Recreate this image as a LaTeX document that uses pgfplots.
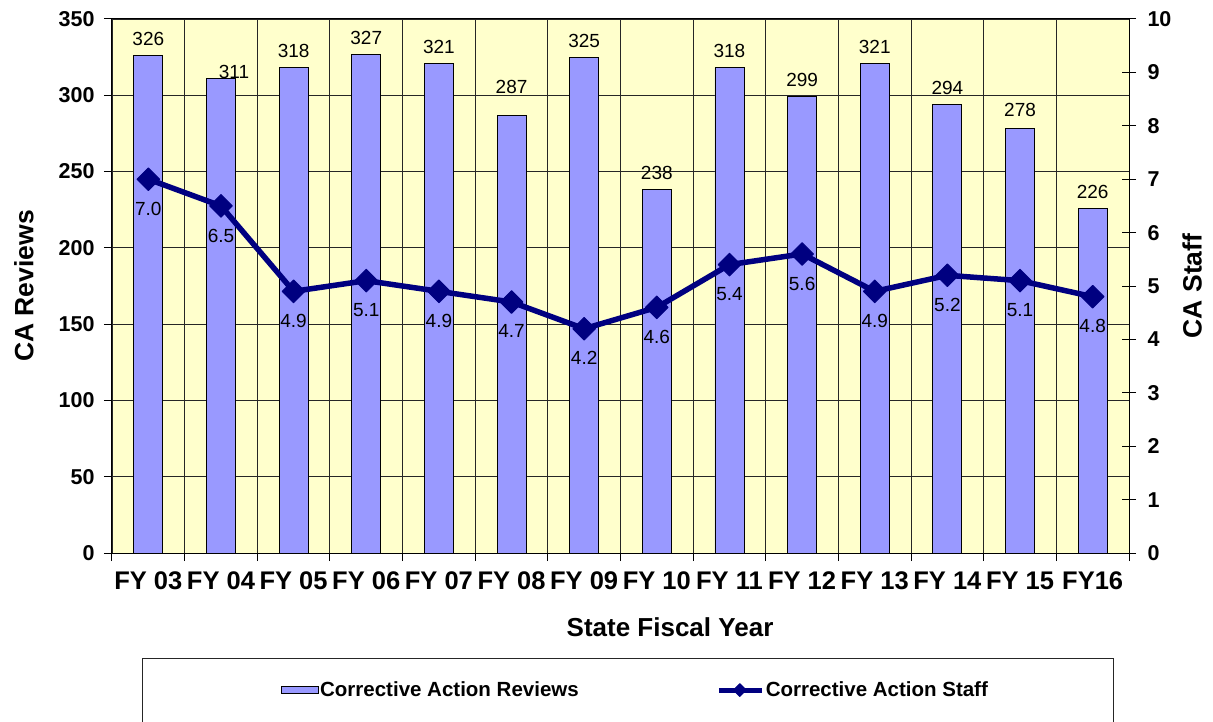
\documentclass[border=0pt]{standalone}
\usepackage{fontspec}
\setmainfont{Liberation Sans}
\usepackage{pgfplots}
\usepackage{pgfplotstable}
\pgfplotsset{compat=1.18}

\definecolor{plotbg}{HTML}{FFFFCC}
\definecolor{barc}{HTML}{9999FF}
\definecolor{linec}{HTML}{000080}

\newcommand{\fs}[1]{\fontsize{#1}{#1}\selectfont}

\pgfplotsset{
  barleg/.style={legend image code/.code={\draw[##1] (0pt,-3.5pt) rectangle (37pt,3.5pt);}},
  lineleg/.style={legend image code/.code={\draw[##1, line width=5pt, mark size=4.5pt, mark repeat=2, mark phase=2]
    plot coordinates {(0pt,0pt) (21pt,0pt) (43pt,0pt)};}},
}

% reviews per fiscal year; dx/dy = label offsets
\pgfplotstableread{
x  y   dx  dy
0  326 0   6
1  311 13  -4
2  318 0   6
3  327 0   6
4  321 0   6
5  287 0   18
6  325 0   6
7  238 0   6
8  318 0   6
9  299 0   6
10 321 0   6
11 294 0   6
12 278 0   8
13 226 0   6
}\reviews

\pgfplotstableread{
x  y
0  7.0
1  6.5
2  4.9
3  5.1
4  4.9
5  4.7
6  4.2
7  4.6
8  5.4
9  5.6
10 4.9
11 5.2
12 5.1
13 4.8
}\staff

\begin{document}
\begin{tikzpicture}
\pgfplotsset{common/.style={
  scale only axis, width=1017pt, height=534pt,
  xmin=-0.5, xmax=13.5,
  /pgf/number format/assume math mode=true,
}}

\begin{axis}[common,
  ymin=0, ymax=350,
  ytick={0,50,...,350},
  xtick={0,...,13},
  xticklabels={FY 03,FY 04,FY 05,FY 06,FY 07,FY 08,FY 09,FY 10,FY 11,FY 12,FY 13,FY 14,FY 15,FY16},
  minor xtick={-0.5,0.5,...,13.5},
  xminorgrids=true, ymajorgrids=true,
  grid style={black!85, line width=0.9pt},
  minor grid style={black!85, line width=0.9pt},
  axis background/.style={fill=plotbg},
  axis line style={black, line width=1pt},
  tick align=outside, xtick pos=left, ytick pos=left,
  major tick length=8pt, minor tick length=8pt,
  major x tick style={draw=none},
  minor x tick style={black, line width=1pt},
  major y tick style={black, line width=1pt},
  xticklabel style={font=\bfseries\fs{25.5}, yshift=-7pt},
  yticklabel style={font=\bfseries\fs{21.5}, xshift=-6pt},
  ylabel={CA Reviews},
  ylabel style={font=\bfseries\fs{26.5}, at={(axis description cs:-0.0866,0.5)}, anchor=center},
  xlabel={State Fiscal Year},
  xlabel style={font=\bfseries\fs{26}, at={(axis description cs:0.5487,-0.1386)}, anchor=center},
]
\addplot[ybar, bar width=29pt, fill=barc, draw=black, line width=0.8pt,
  visualization depends on={\thisrow{dx} \as \dx},
  visualization depends on={\thisrow{dy} \as \dy},
  nodes near coords,
  nodes near coords style={font=\fs{19}, text=black, xshift=\dx pt, yshift=\dy pt},
] table[x=x, y=y] {\reviews};
\end{axis}

\begin{axis}[common,
  ymin=0, ymax=10,
  ytick={0,...,10},
  axis x line=none,
  axis y line*=right,
  axis line style={black, line width=1pt},
  tick align=center, major tick length=14pt,
  major y tick style={black, line width=1pt},
  yticklabel style={font=\bfseries\fs{21.5}, xshift=8pt},
  ylabel={CA Staff},
  ylabel style={font=\bfseries\fs{26.5}, at={(axis description cs:1.062,0.5)}, anchor=center, rotate=0},
  legend columns=2,
  legend style={at={(axis description cs:0.1629,-0.2566)}, anchor=west,
    draw=none, fill=none, font=\bfseries\fs{20.5},
    nodes={inner sep=1.5pt},
    /tikz/every even column/.append style={column sep=136pt}},
]
\addlegendimage{fill=barc, draw=black, line width=0.8pt, barleg}
\addlegendentry{Corrective Action Reviews}
\addplot[color=linec, line width=5.5pt, line join=round,
  mark=square*, mark size=8pt, mark options={rotate=45, solid, fill=linec, line width=1pt},
  nodes near coords={\pgfmathprintnumber[fixed,fixed zerofill,precision=1]{\pgfplotspointmeta}},
  nodes near coords style={font=\fs{19}, text=black, anchor=north, yshift=-19pt},
  lineleg,
] table[x=x, y=y] {\staff};
\addlegendentry{Corrective Action Staff}
\end{axis}

\draw[black!85, line width=0.9pt] (30pt,-105pt) rectangle (1001pt,-200pt);

\pgfresetboundingbox
\path[use as bounding box] (-112pt,-168pt) rectangle (1101pt,553pt);
\end{tikzpicture}
\end{document}
